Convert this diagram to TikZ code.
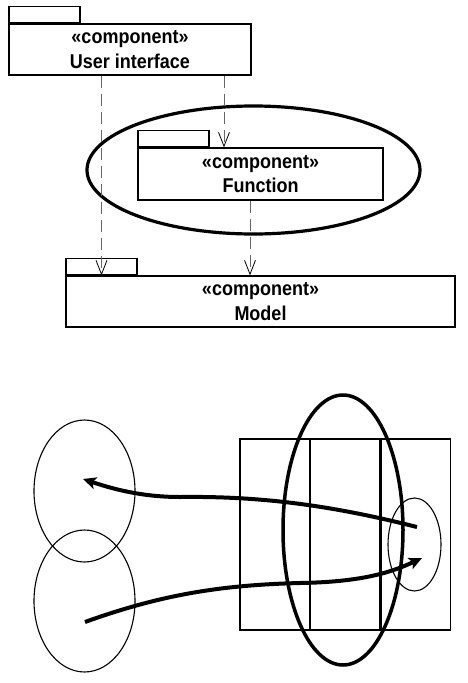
\documentclass[tikz,border=0pt]{standalone}
\usepackage{fontspec}
\newfontfamily\umlfont[FakeStretch=0.9]{Liberation Sans}
\usetikzlibrary{arrows.meta,shapes.geometric,positioning}

\begin{document}
\begin{tikzpicture}[x=1pt,y=-1pt,
    comp/.style={draw, line width=1.3pt, inner sep=0pt, align=center,
        font=\umlfont\bfseries\fontsize{20}{24.5}\selectfont},
    tab/.style={draw, line width=1.3pt, minimum width=71pt, minimum height=16pt,
        inner sep=0pt},
    dep/.style={black!60, line width=0.8pt, dash pattern=on 12pt off 6pt,
        -{Straight Barb[length=14pt,width=11pt,black]}},
    ring/.style={draw, ellipse, line width=1.1pt, inner sep=0pt},
    flow/.style={line width=4pt, -{Stealth[length=13pt,width=12pt,inset=3pt]}}]
    \useasboundingbox (0,0) rectangle (468,683);

        % components
        \node[comp, minimum width=242pt, minimum height=51pt] (ui) at (130,49.5)
            {«component»\\User interface};
        \node[tab, above right=0pt of ui.north west] (uitab) {};

        \node[comp, minimum width=245pt, minimum height=52pt] (fn) at (260.5,174)
            {«component»\\Function};
        \node[tab, above right=0pt of fn.north west] (fntab) {};
        \node[draw, ellipse, line width=3.2pt, minimum width=333pt, minimum height=128pt]
            (fnring) at (253.5,170) {};

        \node[comp, minimum width=389pt, minimum height=51pt] (model) at (260.5,301.5)
            {«component»\\Model};
        \node[tab, above right=0pt of model.north west] (mtab) {};

        % dependencies
        \coordinate (d1) at (224,0);
        \coordinate (d2) at (250,0);
        \draw[dep] (ui.south -| mtab) -- (mtab |- model.north);
        \draw[dep] (ui.south -| d1) -- (fn.north -| d1);
        \draw[dep] (fn.south -| d2) -- (model.north -| d2);

        % lower part
        \node[ring, minimum width=101pt, minimum height=142pt] (upper) at (84.5,491) {};
        \node[ring, minimum width=101pt, minimum height=142pt] (lower) at (84.5,601) {};

        \node[draw, line width=1.4pt, minimum width=69.3pt, minimum height=191pt,
            inner sep=0pt] (col1) at (274.7,534.5) {};
        \node[draw, line width=1.4pt, minimum width=69.3pt, minimum height=191pt,
            inner sep=0pt, right=0pt of col1] (col2) {};
        \node[draw, line width=1.4pt, minimum width=69.3pt, minimum height=191pt,
            inner sep=0pt, right=0pt of col2] (col3) {};

        \node[draw, ellipse, line width=3.5pt, minimum width=120pt, minimum height=270pt]
            (bigring) at (343,530) {};
        \node[ring, minimum width=53pt, minimum height=93pt] (hub) at (414.5,544.5) {};

        % flows
        \coordinate (p1) at (417,527);
        \coordinate (p2) at (83,479);
        \coordinate (q1) at (85,622);
        \coordinate (q2) at (422,558);
        \draw[flow] (p1) .. controls (330,505) and (260,496) .. (180,497)
            .. controls (140,497) and (110,488) .. (p2);
        \draw[flow] (q1) .. controls (160,595) and (220,585) .. (300,583)
            .. controls (360,582) and (390,573) .. (q2);
\end{tikzpicture}
\end{document}
